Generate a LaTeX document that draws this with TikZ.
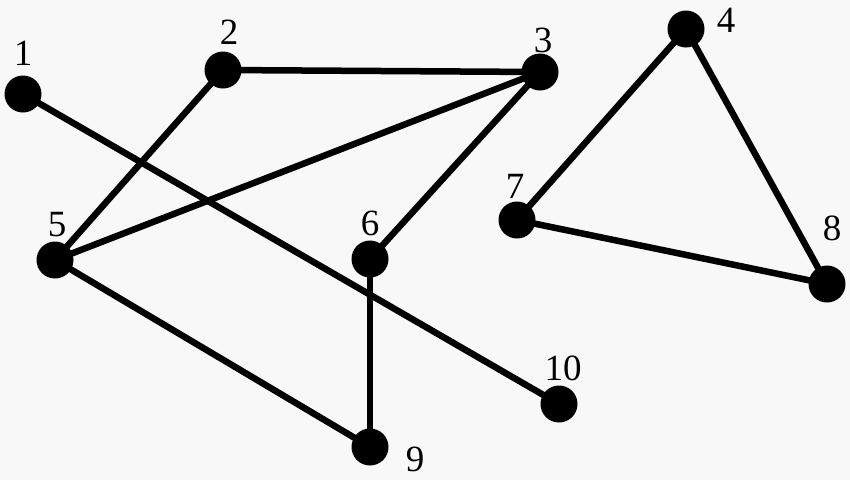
\documentclass[tikz,border=0pt]{standalone}
\usepackage{fontspec}
\newfontfamily\lblfont{Liberation Serif}
\begin{document}
\begin{tikzpicture}[x=1pt,y=-1pt,
  vtx/.style={circle,fill=black,minimum size=37pt,inner sep=0pt},
  lbl/.style={inner sep=0pt,font=\lblfont\fontsize{37}{40}\selectfont},
  edge/.style={line width=6.5pt}]
\fill[fill={rgb,255:red,248;green,248;blue,248}] (0,0) rectangle (850,480);
\useasboundingbox (0,0) rectangle (850,480);
\node[vtx] (n1) at (23,94) {};
\node[vtx] (n2) at (223,70) {};
\node[vtx] (n3) at (540,72) {};
\node[vtx] (n4) at (686,29) {};
\node[vtx] (n5) at (55,260) {};
\node[vtx] (n6) at (370,259) {};
\node[vtx] (n7) at (517,220) {};
\node[vtx] (n8) at (827,284) {};
\node[vtx] (n9) at (370,447) {};
\node[vtx] (n10) at (559,404) {};
\node[lbl] (l1) at (23,53) {1};
\node[lbl] (l2) at (229,32) {2};
\node[lbl] (l3) at (543,40) {3};
\node[lbl] (l4) at (726,20) {4};
\node[lbl] (l5) at (57,225) {5};
\node[lbl] (l6) at (370,223) {6};
\node[lbl] (l7) at (515,186) {7};
\node[lbl] (l8) at (832,228) {8};
\node[lbl] (l9) at (415,459) {9};
\node[lbl] (l10) at (563,368) {10};
\draw[edge] (n2.center) -- (n3.center);
\draw[edge] (n2.center) -- (n5.center);
\draw[edge] (n3.center) -- (n5.center);
\draw[edge] (n3.center) -- (n6.center);
\draw[edge] (n1.center) -- (n10.center);
\draw[edge] (n5.center) -- (n9.center);
\draw[edge] (n6.center) -- (n9.center);
\draw[edge] (n4.center) -- (n7.center);
\draw[edge] (n4.center) -- (n8.center);
\draw[edge] (n7.center) -- (n8.center);
\end{tikzpicture}
\end{document}
